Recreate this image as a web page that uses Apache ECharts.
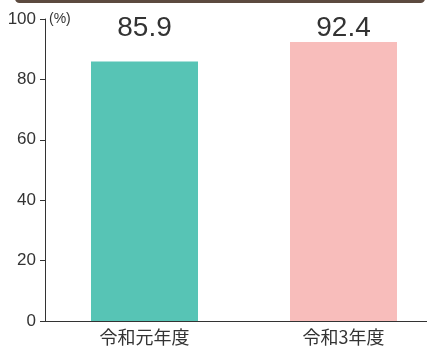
<!DOCTYPE html>
<html><head><meta charset="utf-8">
<script src="https://cdn.jsdelivr.net/npm/echarts@6/dist/echarts.min.js"></script>
<style>html,body{margin:0;padding:0;background:#fff;overflow:hidden;width:427px;height:347px}#c{width:460px;height:347px}</style>
</head><body><div id="c"></div>
<script>
const categories = ['令和元年度', '令和3年度'];
const values = [85.9, 92.4];
const colors = ['#57C4B5', '#F8BDBB'];
const yTicks = [0, 20, 40, 60, 80, 100];
const unitLabel = '(%)';

const numFont = '"Liberation Sans", Arial, sans-serif';
const cjkFont = '"Noto Sans CJK JP", "Noto Sans", sans-serif';
const chart = echarts.init(document.getElementById('c'), null, {renderer: 'canvas'});
chart.setOption({
  animation: false,
  grid: {left: 45, top: 19, width: 398, bottom: 26, containLabel: false},
  graphic: [
    {type: 'rect', shape: {x: 15, y: -6, width: 410, height: 9, r: 6}, style: {fill: '#5C4A3F'}}
  ],
  xAxis: {
    type: 'category', data: categories,
    axisLine: {lineStyle: {color: '#333', width: 1}},
    axisTick: {show: false},
    axisLabel: {color: '#333', fontSize: 18, fontFamily: cjkFont, margin: 7}
  },
  yAxis: {
    type: 'value', min: yTicks[0], max: yTicks[yTicks.length - 1], interval: 20,
    name: unitLabel, nameLocation: 'end', nameGap: 0,
    nameTextStyle: {color: '#333', fontSize: 14, fontFamily: numFont, align: 'left', verticalAlign: 'middle', padding: [0, 0, 0, 4]},
    axisLine: {show: true, lineStyle: {color: '#333', width: 1}},
    axisTick: {show: true, length: 5, lineStyle: {color: '#333'}},
    splitLine: {show: false},
    axisLabel: {color: '#333', fontSize: 17, fontFamily: numFont, margin: 9}
  },
  series: [
    {
      type: 'bar', barWidth: 107,
      data: values.map((v, i) => ({value: v, itemStyle: {color: colors[i]}})),
      z: 2
    },
    {
      type: 'bar', barWidth: 107, barGap: '-100%', silent: true,
      data: values.map(() => yTicks[yTicks.length - 1]),
      itemStyle: {color: 'rgba(0,0,0,0)'},
      label: {
        show: true, position: ['50%', 9], align: 'center', verticalAlign: 'middle',
        formatter: p => values[p.dataIndex].toFixed(1),
        fontSize: 28, color: '#333', fontFamily: numFont
      },
      z: 3
    }
  ]
});
</script></body></html>
